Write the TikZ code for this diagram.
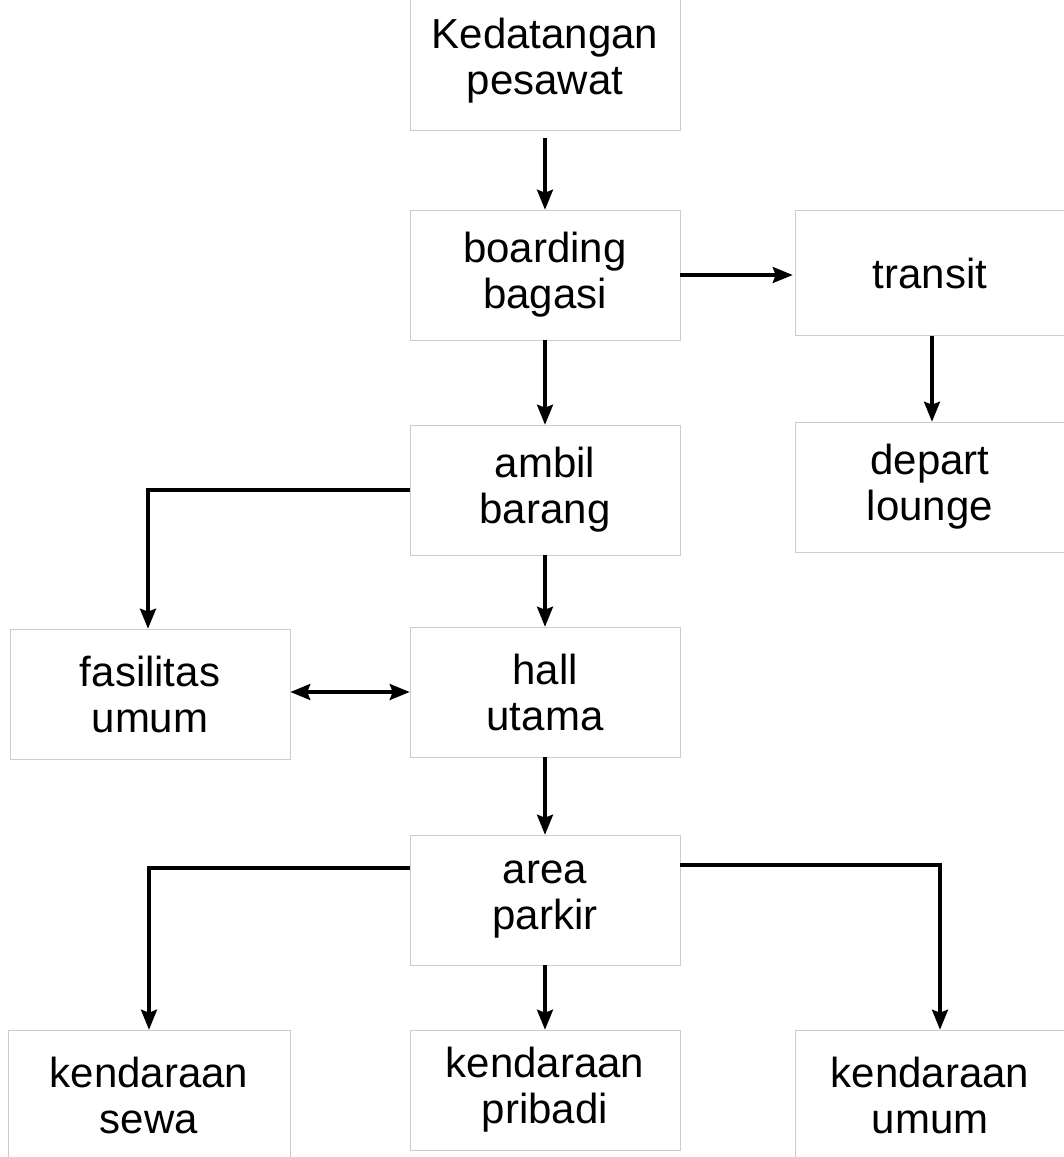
\documentclass[tikz,border=0pt]{standalone}
\usepackage{fontspec}
\setmainfont{Liberation Sans}
\usetikzlibrary{arrows.meta}
\tikzset{
  box/.style={draw=gray!40, line width=0.6pt, rectangle, minimum width=270pt,
    minimum height=130pt, align=center, inner sep=0pt,
    font=\fontsize{42}{46}\selectfont},
  tip/.tip={Stealth[length=20pt,width=16pt,inset=3pt]},
  arr/.style={line width=3.2pt, -tip},
  darr/.style={line width=3.2pt, tip-tip}
}
\begin{document}
\begin{tikzpicture}[x=1pt,y=-1pt]
\useasboundingbox (0,0) rectangle (1064,1157);
\begin{scope}
\clip (0,0) rectangle (1064,1157);
% flow boxes
\node[box, minimum height=140pt, text depth=8pt] (ked) at (545,60) {Kedatangan\\pesawat};
\node[box] (board)   at (545,275)  {boarding\\bagasi};
\node[box, minimum height=125pt] (transit) at (930,273) {transit};
\node[box] (ambil)   at (545,490)  {ambil\\barang};
\node[box] (depart)  at (930,487)  {depart\\lounge};
\node[box, minimum width=280pt] (fasil) at (150,694) {fasilitas\\umum};
\node[box] (hall)    at (545,692)  {hall\\utama};
\node[box] (area)    at (545,900)  {area\\parkir};
\node[box, minimum width=282pt] (sewa) at (149,1095) {kendaraan\\sewa};
\node[box, minimum height=120pt] (pribadi) at (545,1090) {kendaraan\\pribadi};
\node[box] (umum)    at (930,1095) {kendaraan\\umum};
\end{scope}
% connectors
\draw[arr, shorten <=8pt] (ked.south) -- (board.north);
\draw[arr, shorten >=2pt] (board.east) -- (board.east -| transit.west);
\draw[arr] (board.south) -- (ambil.north);
\draw[arr] ([xshift=2pt]transit.south) -- ([xshift=2pt]depart.north);
\draw[arr] (ambil.west) -| ([xshift=-2pt]fasil.north);
\draw[arr] (ambil.south) -- (hall.north);
\draw[darr] (hall.west -| fasil.east) -- (hall.west);
\draw[arr] (hall.south) -- (area.north);
\draw[arr] ([yshift=32pt]area.west) -| (sewa.north);
\draw[arr] (area.south) -- (pribadi.north);
\draw[arr] ([yshift=35pt]area.east) -| ([xshift=10pt]umum.north);
\end{tikzpicture}
\end{document}
